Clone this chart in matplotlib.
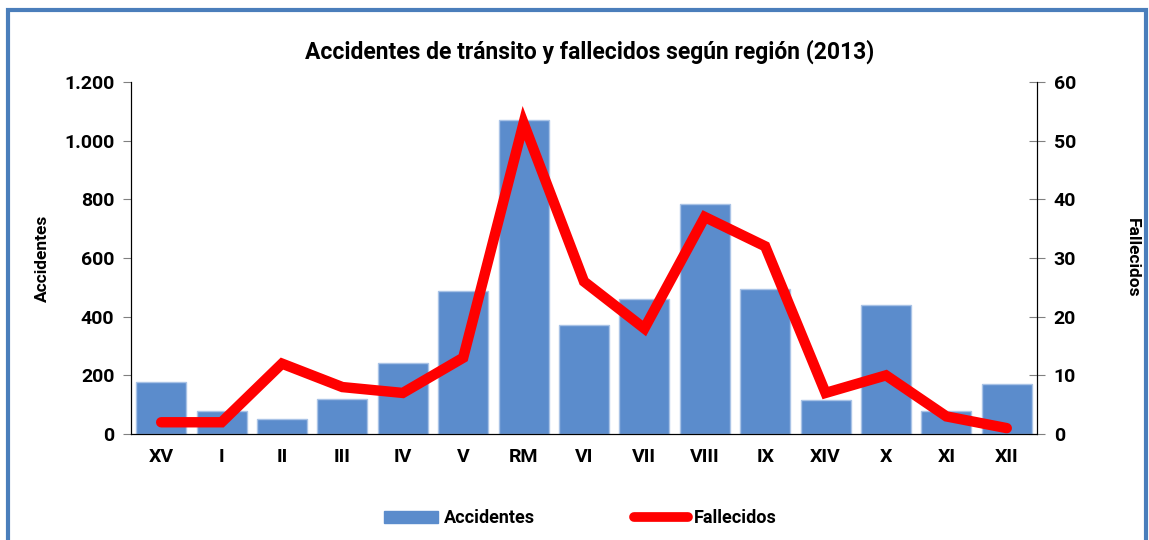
import numpy as np
import matplotlib.pyplot as plt
from matplotlib.patches import Rectangle
from matplotlib.lines import Line2D

regiones = ['XV', 'I', 'II', 'III', 'IV', 'V', 'RM', 'VI', 'VII', 'VIII',
            'IX', 'XIV', 'X', 'XI', 'XII']
accidentes = [177, 78, 51, 119, 242, 488, 1070, 372, 460, 784,
              494, 116, 440, 78, 170]
fallecidos = [2, 2, 12, 8, 7, 13, 53, 26, 18, 37, 32, 7, 10, 3, 1]

plt.rcParams['font.family'] = ['Roboto', 'DejaVu Sans']
plt.rcParams['font.weight'] = 'bold'

fig = plt.figure(figsize=(11.49, 5.40), dpi=100)
ax1 = fig.add_axes([0.114, 0.1963, 0.7885, 0.6517])

# -- marco azul --
fig.patches.append(Rectangle((8 / 1149, -0.05), (1146 - 8) / 1149, 1.05 - 10 / 540,
                             transform=fig.transFigure, fill=False,
                             edgecolor='#4a7ebb', lw=3))

x = np.arange(len(regiones))
ax1.bar(x, accidentes, width=0.83, color='#5b8ccc', edgecolor='#a9c3e6',
        lw=1, zorder=2)
ax1.set_xlim(-0.5, len(regiones) - 0.5)
ax1.set_ylim(0, 1200)
ax1.set_yticks(range(0, 1201, 200))
ax1.set_yticklabels(['0', '200', '400', '600', '800', '1.000', '1.200'])
ax1.set_xticks(x)
ax1.set_xticklabels(regiones)
ax1.tick_params(axis='x', length=0, pad=10, labelsize=14)
ax1.tick_params(axis='y', length=6, color='#808080', labelsize=14, pad=6)
ax1.set_ylabel('Accidentes', fontsize=12.5, fontweight='bold', labelpad=10)
ax1.spines['top'].set_visible(False)

ax2 = ax1.twinx()
ax2.plot(x, fallecidos, color='#ff0000', lw=7.5, solid_capstyle='round',
         solid_joinstyle='miter', zorder=3)
ax2.set_ylim(0, 60)
ax2.set_yticks(range(0, 61, 10))
ax2.tick_params(axis='y', direction='inout', length=12, color='#808080',
                labelsize=14, pad=6)
ax2.set_ylabel('Fallecidos', fontsize=12.5, fontweight='bold', rotation=270,
               labelpad=46)
ax2.spines['top'].set_visible(False)

fig.text(0.513, 0.905, 'Accidentes de tránsito y fallecidos según región (2013)',
         ha='center', va='center', fontsize=16.5, fontweight='bold')

handles = [Rectangle((0, 0), 1, 1, color='#5b8ccc'),
           Line2D([], [], color='#ff0000', lw=7, solid_capstyle='round')]
fig.legend(handles, ['Accidentes', 'Fallecidos'], loc='center',
           bbox_to_anchor=(0.505, 0.04), ncol=2, frameon=False, fontsize=13,
           handlelength=3.0, handleheight=0.6, handletextpad=0.3,
           columnspacing=5.5)

fig.savefig('out.png', dpi=100)
